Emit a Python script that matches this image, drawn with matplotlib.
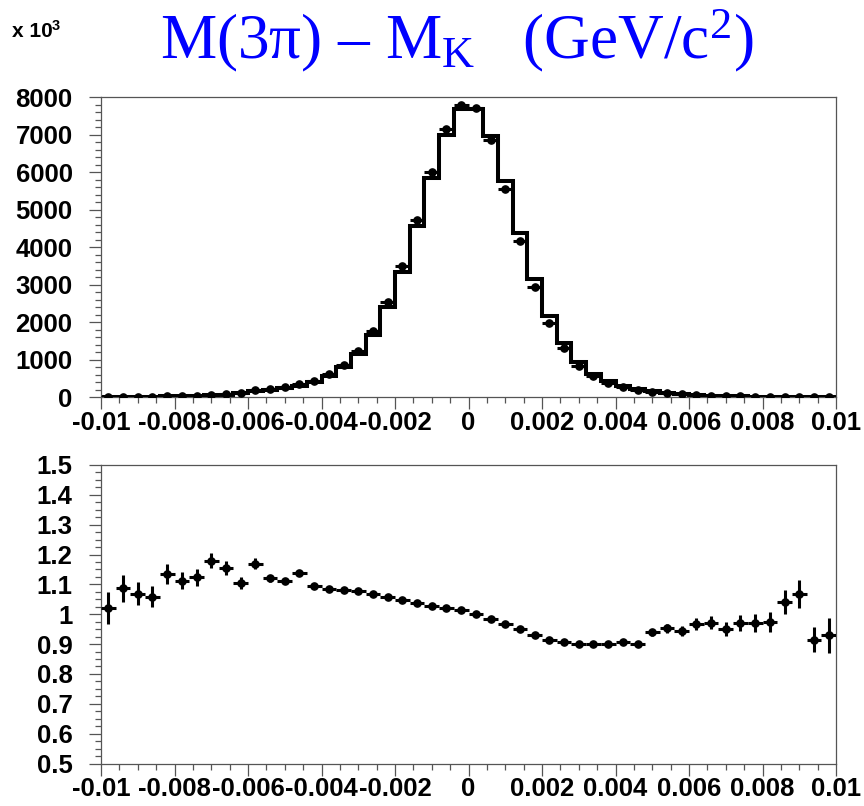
import numpy as np
import matplotlib
matplotlib.use("Agg")
import matplotlib.pyplot as plt
from matplotlib.ticker import MultipleLocator, FixedLocator, FixedFormatter

plt.rcParams['font.family'] = ['Liberation Sans', 'DejaVu Sans']
plt.rcParams['mathtext.fontset'] = 'custom'
plt.rcParams['mathtext.rm'] = 'Liberation Serif'
plt.rcParams['mathtext.it'] = 'Liberation Serif:italic'

# 50 bins of 0.0004 between -0.01 and 0.01
edges = np.linspace(-0.01, 0.01, 51)
centers = 0.5 * (edges[:-1] + edges[1:])
half_width = 0.0002

# simulated distribution (histogram)
mc = [4, 6, 8, 11, 15, 21, 30, 43, 65, 105,
      150, 190, 236, 295, 400, 572, 800, 1140, 1650, 2400,
      3330, 4560, 5840, 7000, 7680, 7690, 6970, 5750, 4380, 3150,
      2160, 1440, 930, 610, 420, 290, 210, 155, 115, 82,
      55, 38, 26, 18, 12, 8, 5.5, 4, 3, 2]

# measured distribution (points)
data = [4, 6.5, 8.5, 11.6, 17, 23, 34, 51, 75, 116,
        176, 213, 262, 336, 437, 620, 864, 1229, 1762, 2539,
        3487, 4729, 6004, 7154, 7795, 7698, 6851, 5560, 4165, 2936,
        1974, 1305, 836, 548, 378, 263, 189, 146, 110, 77,
        53, 37, 25, 17.5, 11.6, 7.8, 5.7, 4.3, 2.7, 1.9]

# data / MC ratio and its errors
ratio = [1.020, 1.087, 1.069, 1.059, 1.135, 1.113, 1.124, 1.180, 1.154, 1.105,
         1.170, 1.120, 1.112, 1.139, 1.093, 1.084, 1.080, 1.078, 1.068, 1.058,
         1.047, 1.037, 1.028, 1.022, 1.015, 1.001, 0.983, 0.967, 0.951, 0.932,
         0.914, 0.906, 0.899, 0.899, 0.901, 0.908, 0.899, 0.939, 0.953, 0.944,
         0.968, 0.972, 0.951, 0.971, 0.970, 0.975, 1.041, 1.069, 0.915, 0.930]
ratio_err = [0.054, 0.046, 0.039, 0.035, 0.035, 0.030, 0.028, 0.025, 0.024, 0.020,
             0.018, 0.012, 0.010, 0.008, 0.006, 0.005, 0.004, 0.004, 0.003, 0.003,
             0.003, 0.003, 0.003, 0.003, 0.003, 0.003, 0.003, 0.003, 0.003, 0.003,
             0.003, 0.003, 0.003, 0.004, 0.004, 0.005, 0.008, 0.013, 0.016, 0.017,
             0.021, 0.023, 0.023, 0.027, 0.030, 0.033, 0.040, 0.047, 0.043, 0.059]

x_ticks = [-0.01, -0.008, -0.006, -0.004, -0.002, 0, 0.002, 0.004, 0.006, 0.008, 0.01]
x_labels = ['-0.01', '-0.008', '-0.006', '-0.004', '-0.002', '0',
            '0.002', '0.004', '0.006', '0.008', '0.01']
top_yticks = [0, 1000, 2000, 3000, 4000, 5000, 6000, 7000, 8000]
top_ylabels = ['0', '1000', '2000', '3000', '4000', '5000', '6000', '7000', '8000']
bot_yticks = [0.5, 0.6, 0.7, 0.8, 0.9, 1.0, 1.1, 1.2, 1.3, 1.4, 1.5]
bot_ylabels = ['0.5', '0.6', '0.7', '0.8', '0.9', '1', '1.1', '1.2', '1.3', '1.4', '1.5']

W, H = 864, 806
fig = plt.figure(figsize=(W / 100, H / 100), dpi=100)
ax1 = fig.add_axes([101 / W, 1 - 397 / H, 735 / W, 300 / H])
ax2 = fig.add_axes([101 / W, 1 - 763.5 / H, 735 / W, 298.5 / H])

frame_col = '#555555'


def style(ax, yticks, ylabels, yminor):
    ax.set_xlim(-0.01, 0.01)
    ax.xaxis.set_major_locator(FixedLocator(x_ticks))
    ax.xaxis.set_major_formatter(FixedFormatter(x_labels))
    ax.xaxis.set_minor_locator(MultipleLocator(0.0005))
    ax.yaxis.set_major_locator(FixedLocator(yticks))
    ax.yaxis.set_major_formatter(FixedFormatter(ylabels))
    ax.yaxis.set_minor_locator(MultipleLocator(yminor))
    for s in ax.spines.values():
        s.set_color(frame_col)
        s.set_linewidth(0.9)
    ax.tick_params(which='both', direction='out', color=frame_col, width=0.9,
                   top=False, right=False)
    ax.tick_params(which='major', length=8.5)
    ax.tick_params(which='minor', length=4)
    ax.tick_params(axis='y', which='major', pad=12)
    ax.tick_params(axis='x', which='major', pad=1.5)
    for lab in ax.get_xticklabels() + ax.get_yticklabels():
        lab.set_fontfamily('Liberation Sans')
        lab.set_fontweight('bold')
        lab.set_fontsize(18.5)


# top: histogram + data points
ax1.stairs(mc, edges, color='black', linewidth=2.9, zorder=2)
ax1.errorbar(centers, data, xerr=half_width, fmt='o', color='black',
             markersize=5.2, elinewidth=2.2, capsize=0, zorder=3)
ax1.set_ylim(0, 8000)
style(ax1, top_yticks, top_ylabels, 200)

# bottom: ratio
ax2.errorbar(centers, ratio, xerr=half_width, yerr=ratio_err, fmt='o',
             color='black', markersize=5.2, elinewidth=2.2, capsize=0, zorder=3)
ax2.set_ylim(0.5, 1.5)
style(ax2, bot_yticks, bot_ylabels, 0.025)

# headline and axis multiplier
fig.text(160 / W, 1 - 58 / H,
         'M(3\u03c0) \u2013 M$_\\mathrm{K}$   (GeV/c$^\\mathrm{2}$)',
         fontsize=45.5, color='blue', family='Liberation Serif', va='baseline')
fig.text(12 / W, 1 - 37 / H, 'x 10', fontsize=15, weight='bold',
         family='Liberation Sans', va='baseline')
fig.text(52 / W, 1 - 30 / H, '3', fontsize=10.5, weight='bold',
         family='Liberation Sans', va='baseline')

fig.savefig('out.png', dpi=100)
